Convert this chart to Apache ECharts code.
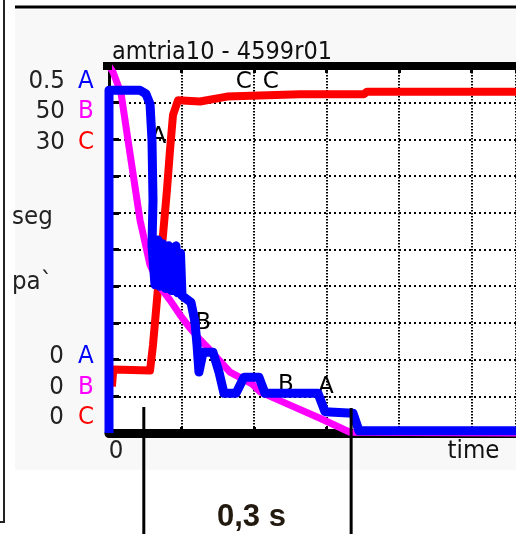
<!DOCTYPE html>
<html><head><meta charset="utf-8">
<script src="https://cdn.jsdelivr.net/npm/echarts@6/dist/echarts.min.js"></script>
<style>html,body{margin:0;padding:0;background:#fff}#c{width:516px;height:534px}</style>
</head><body><div id="c"></div>
<script>
// ---- data ----
const chartTitle = 'amtria10 - 4599r01';
const seriesNames = ['A', 'B', 'C'];
const seriesColors = ['#0000ff', '#ff00ff', '#ff0000'];
const axisMax = [0.5, 50, 30];
const maxLabels = ['0.5', '50', '30'];
const minLabels = ['0', '0', '0'];
const sideLabels = ['seg', 'pa`'];
const xTickLabel = '0';
const xName = 'time';
const spanLabel = '0,3 s';
const spanMarks = [0.048, 0.334];
const xMax = 0.5614;

// time [s], value
const dataA = [[0,0],[0,0.467],[0.0428,0.467],[0.051,0.462],[0.0566,0.448],[0.0593,0.399],[0.0607,0.317],
  [0.0593,0.256],[0.0634,0.202],[0.0655,0.26],[0.0676,0.263],[0.0697,0.2],[0.0717,0.198],[0.0738,0.258],
  [0.0759,0.26],[0.078,0.197],[0.08,0.195],[0.082,0.255],[0.0841,0.257],[0.0862,0.194],[0.0883,0.192],
  [0.0903,0.252],[0.0924,0.255],[0.0945,0.191],[0.0966,0.189],[0.0986,0.245],[0.1007,0.247],[0.1007,0.187],
  [0.1131,0.178],[0.1186,0.151],
  [0.1214,0.12],[0.1241,0.083],[0.1297,0.11],[0.1434,0.11],[0.1517,0.083],[0.1586,0.054],[0.1752,0.054],
  [0.1862,0.076],[0.2069,0.076],[0.2152,0.054],[0.2883,0.054],[0.2979,0.029],[0.3366,0.027],[0.3448,0.003],
  [0.5614,0.003]];
const dataB = [[0,50],[0.0055,49.2],[0.0166,46.3],[0.0262,39.9],[0.0428,29.0],[0.0566,22.9],[0.0703,19.9],
  [0.0841,18.1],[0.0979,16.1],[0.1117,14.3],[0.1255,12.7],[0.1393,11.3],[0.1669,8.3],[0.1972,6.7],
  [0.2083,5.6],[0.2497,3.8],[0.291,2.0],[0.3324,0.1],[0.5614,0]];
const dataC = [[0.004,3.8],[0.006,5.2],[0.0566,5.1],[0.0607,7.2],[0.0662,10.9],[0.0703,13.7],[0.0745,16.2],
  [0.08,19.9],[0.0841,23.1],[0.0883,26.0],[0.0952,27.2],[0.1255,27.1],[0.1628,27.5],[0.2634,27.7],
  [0.3517,27.7],[0.3559,27.9],[0.5614,27.9]];
const curveMarksA = [[0.068,0.403],[0.299,0.063]];
const curveMarksB = [[0.1297,15.0],[0.244,6.5]];
const curveMarksC = [[0.186,28.7],[0.223,28.7]];

// ---- chart ----
const FONT = '"DejaVu Sans", sans-serif';
const chart = echarts.init(document.getElementById('c'), null, {renderer: 'canvas'});

function marks(list, name) {
  return {
    symbol: 'circle', symbolSize: 1, itemStyle: {color: 'rgba(0,0,0,0)'},
    label: {show: true, position: 'inside', formatter: name, color: '#000',
      fontFamily: 'DejaVu Sans', fontSize: 23},
    data: list.map(c => ({coord: c}))
  };
}
const datas = [dataA, dataB, dataC];
const markSets = [curveMarksA, curveMarksB, curveMarksC];
const widths = [9, 7, 8];
const zs = [5, 4, 3];

const series = seriesNames.map((n, i) => ({
  name: n, type: 'line', xAxisIndex: 0, yAxisIndex: i, data: datas[i],
  showSymbol: false, symbol: 'none', z: zs[i], clip: false,
  lineStyle: {color: seriesColors[i], width: widths[i], join: 'round', cap: 'butt'},
  markPoint: marks(markSets[i], n)
}));

const option = {
  animation: false,
  backgroundColor: '#fff',
  grid: {left: 109, top: 66, right: 0, height: 367, show: true, backgroundColor: '#fff', borderWidth: 0},
  xAxis: [{
    type: 'value', min: 0, max: xMax, interval: 0.1, position: 'bottom',
    axisLine: {show: true, onZero: false, lineStyle: {color: '#000', width: 9}},
    axisTick: {show: true, inside: true, length: 6, lineStyle: {color: '#000', width: 3}},
    axisLabel: {show: false},
    splitLine: {show: true, lineStyle: {color: '#000', width: 2, type: [1.5, 1.5]}}
  }, {
    type: 'value', min: 0, max: xMax, interval: 0.1, position: 'top',
    axisLine: {show: true, onZero: false, lineStyle: {color: '#000', width: 8}},
    axisTick: {show: true, inside: true, length: 7, lineStyle: {color: '#000', width: 3}},
    axisLabel: {show: false}, splitLine: {show: false}
  }],
  yAxis: axisMax.map((m, i) => ({
    type: 'value', min: 0, max: m, interval: m / 10, position: 'left',
    show: i === 0,
    axisLine: {show: true, onZero: false, lineStyle: {color: '#000', width: 3}},
    axisTick: {show: true, inside: true, length: 10, lineStyle: {color: '#000', width: 3}},
    axisLabel: {show: false},
    splitLine: {show: i === 0, lineStyle: {color: '#000', width: 2, type: [2, 3]}}
  })),
  series: series
};
chart.setOption(option);

// ---- decorations / texts ----
const g = [];
function txt(text, x, y, align, size, fill, sy, extraFont) {
  return {type: 'text', x: x, y: y, scaleY: sy || 1, z: 50,
    style: {text: text, x: 0, y: 0, textAlign: align, textVerticalAlign: 'middle',
      font: (extraFont || '') + size + 'px ' + FONT, fill: fill}};
}
g.push({type: 'rect', z: -10, shape: {x: 15, y: 10, width: 501, height: 460}, style: {fill: '#f8f8f8'}});
g.push({type: 'line', shape: {x1: 4, y1: 0, x2: 4, y2: 522}, style: {stroke: '#222', lineWidth: 2}});
g.push({type: 'line', shape: {x1: 0, y1: 522, x2: 5, y2: 522}, style: {stroke: '#222', lineWidth: 2}});
g.push({type: 'line', shape: {x1: 15, y1: 7, x2: 516, y2: 7}, style: {stroke: '#000', lineWidth: 3}});
g.push({type: 'line', z: 40, shape: {x1: 103, y1: 66, x2: 112, y2: 66}, style: {stroke: '#000', lineWidth: 8}});
g.push(txt(chartTitle, 222, 52, 'center', 22.5, '#111', 1.12));
const topY = [82, 112, 143], botY = [357, 388, 418];
for (let i = 0; i < 3; i++) {
  g.push(txt(maxLabels[i], 65, topY[i], 'right', 23, '#222', 1.08));
  g.push(txt(seriesNames[i], 78, topY[i], 'left', 23, seriesColors[i], 1.08));
  g.push(txt(minLabels[i], 64, botY[i], 'right', 23, '#222', 1.08));
  g.push(txt(seriesNames[i], 78, botY[i], 'left', 23, seriesColors[i], 1.08));
}
g.push(txt(sideLabels[0], 12, 218, 'left', 23, '#222', 1.08));
g.push(txt(sideLabels[1], 12, 283, 'left', 23, '#222', 1.08));
const x0 = chart.convertToPixel({xAxisIndex: 0}, 0);
g.push(txt(xTickLabel, x0 + 7, 452, 'center', 23, '#222', 1.08));
const xT = chart.convertToPixel({xAxisIndex: 0}, 0.5);
g.push(txt(xName, xT + 2, 452, 'center', 23, '#111', 1.08));
const s1 = chart.convertToPixel({xAxisIndex: 0}, spanMarks[0]);
const s2 = chart.convertToPixel({xAxisIndex: 0}, spanMarks[1]);
g.push({type: 'line', z: 100, shape: {x1: s1, y1: 407, x2: s1, y2: 534}, style: {stroke: '#000', lineWidth: 3}});
g.push({type: 'line', z: 100, shape: {x1: s2, y1: 408, x2: s2, y2: 534}, style: {stroke: '#000', lineWidth: 3}});
g.push({type: 'text', z: 50, style: {text: spanLabel, x: (s1 + s2) / 2 + 4, y: 517, textAlign: 'center', textVerticalAlign: 'middle',
  font: 'bold 31px "Liberation Sans", Arial, sans-serif', fill: '#22190f'}});
chart.setOption({graphic: g});
</script></body></html>
